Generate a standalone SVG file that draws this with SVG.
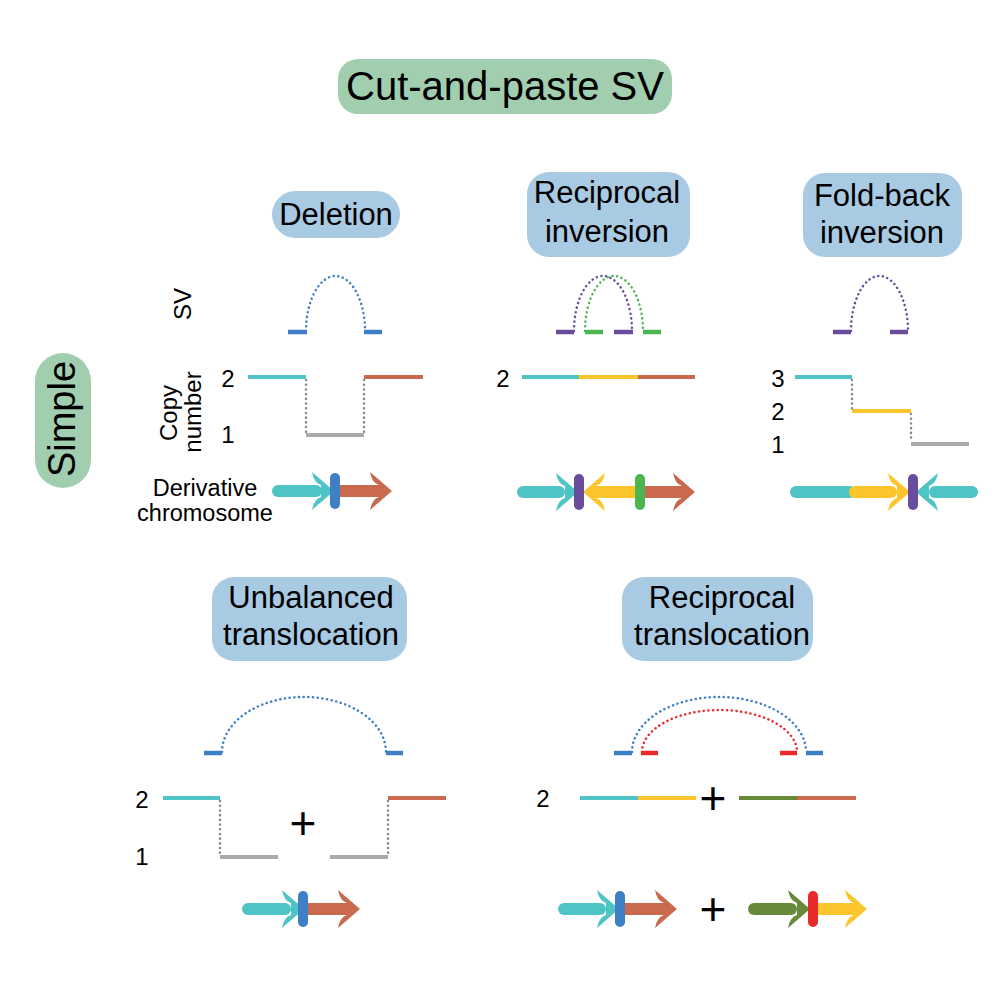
<svg xmlns="http://www.w3.org/2000/svg" xmlns:xlink="http://www.w3.org/1999/xlink" width="1000" height="1000" viewBox="0 0 1000 1000">
<style>
text{font-family:"Liberation Sans",Arial,sans-serif;fill:#000}
.t{font-size:40px;text-anchor:middle}
.h{font-size:31px;text-anchor:middle}
.l{font-size:24px;text-anchor:middle}
.d{font-size:23.5px;text-anchor:middle}
.p{font-size:46px;text-anchor:middle}
.gbox{fill:#a2ceb0}
.bbox{fill:#a9cae3}
.cn{stroke-width:4;fill:none}
.sv{stroke-width:4.5;fill:none}
.dot{stroke-width:2.5;fill:none;stroke-dasharray:0.1 4.6;stroke-linecap:round}
.cy{stroke:#4fc4c6}.cyf{fill:#4fc4c6}
.or{stroke:#c96a4f}.orf{fill:#c96a4f}
.ye{stroke:#fbc52b}.yef{fill:#fbc52b}
.bl{stroke:#3f7fc6}.blf{fill:#3f7fc6}
.pu{stroke:#6a4c9c}.puf{fill:#6a4c9c}
.gr{stroke:#4cb752}.grf{fill:#4cb752}
.dg{stroke:#678a3a}.dgf{fill:#678a3a}
.rd{stroke:#e82a2b}.rdf{fill:#e82a2b}
.ga{stroke:#aaaaaa}
.gd{stroke:#888888}
</style>
<defs>
<path id="head" d="M0,-19 L22,0 L0,19 Q2,8 9,6 L9,-6 Q2,-8 0,-19 Z"/>
<rect id="bar" x="-5" y="-18" width="10" height="36" rx="5"/>
</defs>

<g id="title">
<rect class="gbox" x="338" y="59" width="334" height="55" rx="20"/>
<text class="t" x="505" y="100">Cut-and-paste SV</text>
</g>

<g id="simple-label">
<rect class="gbox" x="35" y="353" width="56" height="135" rx="28"/>
<text transform="translate(75,419) rotate(-90)" style="font-size:38px;text-anchor:middle">Simple</text>
</g>

<g id="row-labels">
<text class="l" transform="translate(191,304) rotate(-90)">SV</text>
<text class="l" transform="translate(177,413) rotate(-90)">Copy</text>
<text class="l" transform="translate(201,412) rotate(-90)">number</text>
<text class="l" x="228" y="387">2</text>
<text class="l" x="228" y="443">1</text>
<text class="d" x="205" y="496">Derivative</text>
<text class="d" x="205" y="521">chromosome</text>
</g>

<g id="deletion">
<rect class="bbox" x="272" y="191" width="128" height="47" rx="23.5"/>
<text class="h" x="336" y="225">Deletion</text>
<line class="sv bl" x1="288" y1="332" x2="307" y2="332"/>
<line class="sv bl" x1="364" y1="332" x2="382" y2="332"/>
<line class="cn cy" x1="248" y1="377" x2="306" y2="377"/>
<line class="cn or" x1="364" y1="377" x2="423" y2="377"/>
<line class="cn ga" x1="306" y1="435" x2="364" y2="435"/>
<rect class="cyf" x="272" y="485" width="50" height="12" rx="6"/>
<use href="#head" class="cyf" transform="translate(312,491)"/>
<rect class="orf" x="335" y="485" width="45" height="12"/>
<use href="#head" class="orf" transform="translate(370,491)"/>
<use href="#bar" class="blf" transform="translate(335,491)"/>
</g>

<g id="reciprocal-inversion">
<rect class="bbox" x="527" y="172" width="163" height="85" rx="22"/>
<text class="h" x="607" y="203">Reciprocal</text>
<text class="h" x="607" y="242">inversion</text>
<line class="sv pu" x1="556" y1="332" x2="574" y2="332"/>
<line class="sv gr" x1="585" y1="332" x2="603" y2="332"/>
<line class="sv pu" x1="614" y1="332" x2="633" y2="332"/>
<line class="sv gr" x1="643" y1="332" x2="661" y2="332"/>
<text class="l" x="503" y="387">2</text>
<line class="cn cy" x1="522" y1="377" x2="579" y2="377"/>
<line class="cn ye" x1="579" y1="377" x2="638" y2="377"/>
<line class="cn or" x1="638" y1="377" x2="695" y2="377"/>
<rect class="cyf" x="517" y="486" width="48" height="12" rx="6"/>
<use href="#head" class="cyf" transform="translate(556,492)"/>
<rect class="yef" x="596" y="486" width="44" height="12"/>
<use href="#head" class="yef" transform="translate(605,492) scale(-1,1)"/>
<rect class="orf" x="640" y="486" width="43" height="12"/>
<use href="#head" class="orf" transform="translate(673,492)"/>
<use href="#bar" class="puf" transform="translate(579,492)"/>
<use href="#bar" class="grf" transform="translate(640,492)"/>
</g>

<g id="fold-back-inversion">
<rect class="bbox" x="803" y="173" width="159" height="84" rx="22"/>
<text class="h" x="882" y="206">Fold-back</text>
<text class="h" x="882" y="243">inversion</text>
<line class="sv pu" x1="833" y1="332" x2="851" y2="332"/>
<line class="sv pu" x1="890" y1="332" x2="908" y2="332"/>
<text class="l" x="778" y="387">3</text>
<text class="l" x="778" y="420">2</text>
<text class="l" x="778" y="453">1</text>
<line class="cn cy" x1="795" y1="377" x2="852" y2="377"/>
<line class="cn ye" x1="852" y1="411" x2="911" y2="411"/>
<line class="cn ga" x1="911" y1="444" x2="969" y2="444"/>
<rect class="cyf" x="790" y="486" width="66" height="12" rx="6"/>
<rect class="yef" x="849" y="486" width="48" height="12" rx="6"/>
<use href="#head" class="yef" transform="translate(888,492)"/>
<rect class="cyf" x="929" y="486" width="49" height="12" rx="6"/>
<use href="#head" class="cyf" transform="translate(938,492) scale(-1,1)"/>
<use href="#bar" class="puf" transform="translate(913,492)"/>
</g>

<g id="unbalanced-translocation">
<rect class="bbox" x="212" y="577" width="195" height="84" rx="22"/>
<text class="h" x="311" y="608">Unbalanced</text>
<text class="h" x="311" y="645">translocation</text>
<line class="sv bl" x1="204" y1="753" x2="222" y2="753"/>
<line class="sv bl" x1="386" y1="753" x2="403" y2="753"/>
<text class="l" x="142" y="808">2</text>
<text class="l" x="142" y="865">1</text>
<line class="cn cy" x1="163" y1="798" x2="220" y2="798"/>
<line class="cn ga" x1="220" y1="857" x2="278" y2="857"/>
<text class="p" x="303" y="839">+</text>
<line class="cn ga" x1="330" y1="857" x2="388" y2="857"/>
<line class="cn or" x1="388" y1="798" x2="446" y2="798"/>
<rect class="cyf" x="242" y="903" width="49" height="12" rx="6"/>
<use href="#head" class="cyf" transform="translate(282,909)"/>
<rect class="orf" x="303" y="903" width="45" height="12"/>
<use href="#head" class="orf" transform="translate(338,909)"/>
<use href="#bar" class="blf" transform="translate(303,909)"/>
</g>

<g id="reciprocal-translocation">
<rect class="bbox" x="622" y="577" width="191" height="84" rx="22"/>
<text class="h" x="722" y="608">Reciprocal</text>
<text class="h" x="722" y="645">translocation</text>
<line class="sv bl" x1="614" y1="753" x2="632" y2="753"/>
<line class="sv rd" x1="641" y1="753" x2="658" y2="753"/>
<line class="sv rd" x1="780" y1="753" x2="797" y2="753"/>
<line class="sv bl" x1="806" y1="753" x2="823" y2="753"/>
<text class="l" x="543" y="807">2</text>
<line class="cn cy" x1="580" y1="798" x2="638" y2="798"/>
<line class="cn ye" x1="638" y1="798" x2="696" y2="798"/>
<text class="p" x="713" y="814">+</text>
<line class="cn dg" x1="739" y1="798" x2="797" y2="798"/>
<line class="cn or" x1="797" y1="798" x2="856" y2="798"/>
<rect class="cyf" x="558" y="903" width="48" height="12" rx="6"/>
<use href="#head" class="cyf" transform="translate(597,909)"/>
<rect class="orf" x="620" y="903" width="45" height="12"/>
<use href="#head" class="orf" transform="translate(655,909)"/>
<use href="#bar" class="blf" transform="translate(620,909)"/>
<text class="p" x="713" y="925">+</text>
<rect class="dgf" x="748" y="903" width="49" height="12" rx="6"/>
<use href="#head" class="dgf" transform="translate(788,909)"/>
<rect class="yef" x="813" y="903" width="42" height="12"/>
<use href="#head" class="yef" transform="translate(845,909)"/>
<use href="#bar" class="rdf" transform="translate(813,909)"/>
</g>

<g id="connectors">
<path class="dot bl" d="M306,331 A29.5,55 0 0 1 365,331"/>
<path class="dot pu" d="M574,331 A29,55 0 0 1 632,331"/>
<path class="dot gr" d="M585,331 A29,55 0 0 1 643,331"/>
<path class="dot pu" d="M851,331 A28.5,55 0 0 1 908,331"/>
<path class="dot bl" d="M222,752 A82,55 0 0 1 386,752"/>
<path class="dot bl" d="M632,752 A87,55 0 0 1 806,752"/>
<path class="dot rd" d="M642,752 A77.5,42 0 0 1 797,752"/>
<line class="dot gd" x1="306" y1="380" x2="306" y2="433"/>
<line class="dot gd" x1="364" y1="380" x2="364" y2="433"/>
<line class="dot gd" x1="852" y1="380" x2="852" y2="409"/>
<line class="dot gd" x1="911" y1="414" x2="911" y2="442"/>
<line class="dot gd" x1="220" y1="801" x2="220" y2="855"/>
<line class="dot gd" x1="388" y1="801" x2="388" y2="855"/>
</g>
</svg>
